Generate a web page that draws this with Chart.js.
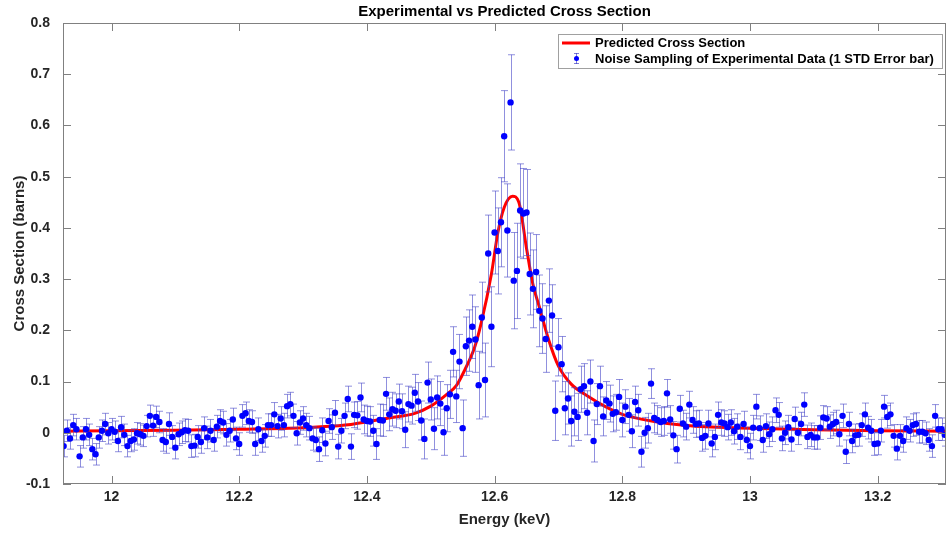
<!DOCTYPE html>
<html>
<head>
<meta charset="utf-8">
<script src="https://cdn.jsdelivr.net/npm/chart.js@4.4.1/dist/chart.umd.min.js"></script>
<style>
  html, body { margin: 0; padding: 0; background: #fff; }
  #wrap { width: 950px; height: 533px; }
</style>
</head>
<body>
<div id="wrap"><canvas id="chart-xs" width="950" height="533"></canvas></div>
<script>
// energy grid of the sampled points (keV)
const energyStart = 11.925
const energyStep = 0.005

// sampled cross section (barns), read left to right
const sigma = [
  -0.026, 0.004, -0.011, 0.015, 0.007, -0.046, -0.009, 0.007, -0.004, -0.032,
  -0.042, -0.009, 0.004, 0.017, -0.001, 0.007, 0.002, -0.016, 0.011, -0.004,
  -0.026, -0.016, -0.013, -0.001, -0.003, -0.006, 0.013, 0.033, 0.014, 0.031,
  0.021, -0.014, -0.018, 0.017, -0.008, -0.029, -0.003, 0.001, 0.005, 0.004,
  -0.026, -0.025, -0.008, -0.018, 0.009, -0.009,
  0.004, -0.014, 0.012, 0.023, 0.020, -0.004, 0.004, 0.026, -0.011, -0.022,
  0.033, 0.038, 0.023, 0.021, -0.022, 0.007, -0.016, -0.006, 0.015, 0.015,
  0.036, 0.013, 0.028, 0.015, 0.052, 0.056, 0.033, -0.001, 0.020, 0.028,
  0.015, 0.009, -0.011, -0.014, -0.032, 0.005, -0.021, 0.023, 0.011, 0.039,
  -0.027, 0.004, 0.033, 0.066, -0.027, 0.035,
  0.034, 0.069, 0.026, 0.023, 0.022, 0.004, -0.022, 0.025, 0.024, 0.076,
  0.036, 0.046, 0.043, 0.061, 0.042, 0.006, 0.056, 0.053, 0.078, 0.061,
  0.024, -0.012, 0.098, 0.065, 0.008, 0.069, 0.057, 0.001, 0.048, 0.075,
  0.158, 0.071, 0.139, 0.009, 0.169, 0.180, 0.207,
  0.182, 0.093, 0.225, 0.103, 0.350, 0.207, 0.391, 0.355, 0.411,
  0.579, 0.395, 0.645, 0.297, 0.316, 0.434, 0.428, 0.430, 0.310, 0.281,
  0.314, 0.238, 0.223, 0.183, 0.258, 0.229, 0.043, 0.167,
  0.134, 0.048, 0.067, 0.023, 0.041, 0.031, 0.085, 0.091, 0.039, 0.100,
  -0.016, 0.056, 0.091, 0.032, 0.063, 0.057, 0.037, 0.040, 0.070, 0.025,
  0.051, 0.035, 0.003, 0.060, 0.044, -0.037, 0.000, 0.009, 0.096, 0.029,
  0.025, 0.021, 0.023, 0.077, 0.026, -0.005, -0.032, 0.047, 0.018, 0.012,
  0.055, 0.025, 0.017, 0.018, -0.010, -0.006, 0.018, -0.021, -0.008, 0.035,
  0.020, 0.018, 0.011, 0.020, 0.003, 0.012, -0.008, 0.017, -0.014, -0.026,
  0.010, 0.051, 0.009, -0.014, 0.013, -0.003, 0.007, 0.044, 0.035, -0.011,
  0.000, 0.011, -0.013, 0.027, 0.000, 0.017, 0.055, -0.008, -0.004, -0.009,
  -0.009, 0.010, 0.030, 0.028, 0.012, 0.017, 0.021, -0.003, 0.033, -0.037,
  0.017, -0.016, -0.005, -0.004, 0.015, 0.036, 0.010, 0.004, -0.022, -0.021,
  0.004, 0.051, 0.031, 0.036, -0.006, -0.031, -0.006, -0.016, 0.009, 0.004,
  0.015, 0.017, 0.002, 0.002, -0.001, -0.014, -0.026, 0.033, 0.007, 0.007,
  -0.004, 0.012
]

// 1 STD error of each sample (barns)
const sigmaErr = [
  0.021, 0.021, 0.021, 0.021, 0.021, 0.021, 0.021, 0.021, 0.021, 0.021,
  0.021, 0.021, 0.021, 0.021, 0.021, 0.021, 0.021, 0.021, 0.021, 0.021,
  0.021, 0.021, 0.021, 0.021, 0.021, 0.021, 0.021, 0.021, 0.021, 0.021,
  0.021, 0.022, 0.022, 0.022, 0.022, 0.022, 0.022, 0.022, 0.022, 0.022,
  0.022, 0.022, 0.022, 0.022, 0.022, 0.022, 0.022, 0.022, 0.022, 0.022,
  0.022, 0.022, 0.022, 0.022, 0.022, 0.022, 0.022, 0.022, 0.022, 0.022,
  0.022, 0.022, 0.022, 0.022, 0.022, 0.022, 0.023, 0.023, 0.023, 0.023,
  0.023, 0.023, 0.023, 0.023, 0.023, 0.023, 0.023, 0.023, 0.023, 0.023,
  0.024, 0.024, 0.024, 0.024, 0.024, 0.024, 0.024, 0.024, 0.025, 0.025,
  0.025, 0.025,
  0.027, 0.028, 0.028, 0.029, 0.029, 0.030, 0.030, 0.031, 0.031, 0.032,
  0.032, 0.033, 0.033, 0.034, 0.034, 0.035, 0.035, 0.036, 0.036, 0.037,
  0.038, 0.039, 0.040, 0.040, 0.041, 0.042, 0.043, 0.045, 0.046, 0.047,
  0.049, 0.051, 0.053, 0.055, 0.057, 0.060, 0.062,
  0.064, 0.066, 0.069, 0.072, 0.075, 0.078, 0.081, 0.084, 0.087,
  0.089, 0.091, 0.093, 0.094, 0.093, 0.091, 0.088, 0.084, 0.080, 0.076,
  0.073, 0.070, 0.068, 0.065, 0.062, 0.060, 0.058, 0.056,
  0.054, 0.052, 0.050, 0.049, 0.047, 0.046, 0.045, 0.044, 0.043, 0.042,
  0.041, 0.040, 0.039, 0.038, 0.037, 0.036, 0.035, 0.035, 0.034, 0.033,
  0.033, 0.032, 0.032, 0.031, 0.031, 0.030, 0.030, 0.029, 0.029, 0.029,
  0.028, 0.028, 0.028, 0.027, 0.027, 0.027, 0.027, 0.026, 0.026, 0.026,
  0.026, 0.026, 0.026, 0.026, 0.026, 0.026, 0.026, 0.026, 0.025, 0.025,
  0.025, 0.025, 0.025, 0.025, 0.025, 0.025, 0.025, 0.025, 0.025, 0.025,
  0.024, 0.024, 0.024, 0.024, 0.024, 0.024, 0.024, 0.024, 0.024, 0.024,
  0.023, 0.023, 0.023, 0.023, 0.023, 0.023, 0.023, 0.023, 0.023, 0.023,
  0.023, 0.023, 0.023, 0.023, 0.023, 0.023, 0.023, 0.023, 0.023, 0.023,
  0.023, 0.023, 0.022, 0.022, 0.022, 0.022, 0.022, 0.022, 0.022, 0.022,
  0.022, 0.022, 0.022, 0.022, 0.022, 0.022, 0.022, 0.022, 0.022, 0.022,
  0.022, 0.022, 0.022, 0.022, 0.022, 0.022, 0.022, 0.022, 0.022, 0.022,
  0.022, 0.022
]

// predicted curve
const predEnergy = [11.924, 12.0, 12.1, 12.2, 12.3, 12.366, 12.434, 12.475, 12.5, 12.527,
  12.54, 12.553, 12.569, 12.579, 12.595, 12.605, 12.615, 12.628, 12.638, 12.65,
  12.66, 12.67, 12.685, 12.70, 12.72, 12.748, 12.775, 12.8, 12.85, 12.9,
  13.0, 13.1, 13.2, 13.31]
const predSigma = [0.003, 0.004, 0.005, 0.007, 0.010, 0.015, 0.029, 0.038, 0.052, 0.077,
  0.092, 0.122, 0.168, 0.214, 0.31, 0.39, 0.44, 0.462, 0.45, 0.36,
  0.29, 0.246, 0.18, 0.13, 0.095, 0.07, 0.05, 0.036, 0.022, 0.014,
  0.009, 0.006, 0.004, 0.003]

const xTicks = [12, 12.2, 12.4, 12.6, 12.8, 13, 13.2]
const xTickLabels = ["12", "12.2", "12.4", "12.6", "12.8", "13", "13.2"]
const yTicks = [-0.1, 0, 0.1, 0.2, 0.3, 0.4, 0.5, 0.6, 0.7, 0.8]
const yTickLabels = ["-0.1", "0", "0.1", "0.2", "0.3", "0.4", "0.5", "0.6", "0.7", "0.8"]

const energy = sigma.map((_, i) => +(energyStart + i * energyStep).toFixed(3))

Chart.defaults.font.family = '"Liberation Sans", Arial, sans-serif'

const axisGray = "#808080"
const textDark = "#262626"

// vertical error bars with caps, drawn under the markers
const errorBars = {
  id: "errorBars",
  beforeDatasetDraw(chart, args) {
    if (args.index !== 0) return
    const { ctx, chartArea: a, scales: { x, y } } = chart
    ctx.save()
    ctx.beginPath()
    ctx.rect(a.left, a.top, a.right - a.left, a.bottom - a.top)
    ctx.clip()
    ctx.strokeStyle = "rgba(70,70,200,0.6)"
    ctx.lineWidth = 1
    sigma.forEach((v, i) => {
      const px = Math.round(x.getPixelForValue(energy[i])) + 0.5
      const top = y.getPixelForValue(v + sigmaErr[i])
      const bot = y.getPixelForValue(v - sigmaErr[i])
      ctx.beginPath()
      ctx.moveTo(px, top); ctx.lineTo(px, bot)
      ctx.moveTo(px - 3.5, top); ctx.lineTo(px + 3.5, top)
      ctx.moveTo(px - 3.5, bot); ctx.lineTo(px + 3.5, bot)
      ctx.stroke()
    })
    ctx.restore()
  }
}

// box, inward ticks, title and legend
const frame = {
  id: "frame",
  afterDraw(chart) {
    const { ctx, chartArea: a, scales: { x, y } } = chart
    const tl = 8
    ctx.save()
    ctx.strokeStyle = axisGray
    ctx.lineWidth = 1
    ctx.strokeRect(a.left + 0.5, a.top + 0.5, a.right - a.left - 1, a.bottom - a.top - 1)
    ctx.beginPath()
    xTicks.forEach(v => {
      const px = Math.round(x.getPixelForValue(v)) + 0.5
      ctx.moveTo(px, a.bottom); ctx.lineTo(px, a.bottom - tl)
      ctx.moveTo(px, a.top); ctx.lineTo(px, a.top + tl)
    })
    yTicks.forEach(v => {
      const py = Math.round(y.getPixelForValue(v)) + 0.5
      ctx.moveTo(a.left, py); ctx.lineTo(a.left + tl, py)
      ctx.moveTo(a.right, py); ctx.lineTo(a.right - tl, py)
    })
    ctx.stroke()

    // title
    ctx.fillStyle = "#000"
    ctx.font = 'bold 15px "Liberation Sans", Arial, sans-serif'
    ctx.textAlign = "center"
    ctx.textBaseline = "middle"
    ctx.fillText("Experimental vs Predicted Cross Section", (a.left + a.right) / 2, 12)

    // legend
    const ds = chart.data.datasets
    const lx = 558, ly = 34, lw = 384, lh = 34
    ctx.fillStyle = "#fff"
    ctx.fillRect(lx, ly, lw, lh)
    ctx.strokeStyle = "#a0a0a0"
    ctx.strokeRect(lx + 0.5, ly + 0.5, lw, lh)
    ctx.strokeStyle = "#ff0000"
    ctx.lineWidth = 3
    ctx.beginPath()
    ctx.moveTo(562, ly + 9); ctx.lineTo(590, ly + 9)
    ctx.stroke()
    ctx.strokeStyle = "rgba(70,70,200,0.7)"
    ctx.lineWidth = 1
    ctx.beginPath()
    ctx.moveTo(576.5, ly + 19); ctx.lineTo(576.5, ly + 30)
    ctx.moveTo(574, ly + 19.5); ctx.lineTo(579, ly + 19.5)
    ctx.moveTo(574, ly + 29.5); ctx.lineTo(579, ly + 29.5)
    ctx.stroke()
    ctx.fillStyle = "#0000ff"
    ctx.beginPath()
    ctx.arc(576.5, ly + 24.5, 2.5, 0, Math.PI * 2)
    ctx.fill()
    ctx.fillStyle = "#000"
    ctx.font = 'bold 13px "Liberation Sans", Arial, sans-serif'
    ctx.textAlign = "left"
    ctx.fillText(ds[1].label, 595, ly + 9)
    ctx.fillText(ds[0].label, 595, ly + 25)
    ctx.restore()
  }
}

new Chart(document.getElementById("chart-xs"), {
  type: "scatter",
  data: {
    datasets: [{
      label: "Noise Sampling of Experimental Data (1 STD Error bar)",
      data: energy.map((e, i) => ({ x: e, y: sigma[i] })),
      pointRadius: 3.2,
      pointBackgroundColor: "#0000ff",
      pointBorderWidth: 0,
      showLine: false,
      order: 0
    }, {
      type: "line",
      label: "Predicted Cross Section",
      data: predEnergy.map((e, i) => ({ x: e, y: predSigma[i] })),
      borderColor: "#ff0000",
      borderWidth: 3,
      pointRadius: 0,
      cubicInterpolationMode: "monotone",
      fill: false,
      order: 1
    }]
  },
  options: {
    responsive: false,
    animation: false,
    devicePixelRatio: 1,
    layout: { padding: { top: 23, right: 2, left: 0, bottom: 0 } },
    plugins: {
      legend: { display: false },
      title: { display: false },
      tooltip: { enabled: false }
    },
    scales: {
      x: {
        type: "linear",
        min: 11.924,
        max: 13.307,
        afterFit: s => { s.height = 49 },
        afterBuildTicks: s => { s.ticks = xTicks.map(v => ({ value: v })) },
        grid: { display: false, drawTicks: false },
        border: { display: false },
        ticks: {
          padding: 5, color: textDark, autoSkip: false, maxRotation: 0,
          font: { size: 14, weight: "bold" },
          callback: (v, i) => xTickLabels[i]
        },
        title: {
          display: true, text: "Energy (keV)", color: textDark,
          font: { size: 15, weight: "bold" }, padding: { top: 0, bottom: 4 }
        }
      },
      y: {
        min: -0.1,
        max: 0.8,
        afterFit: s => { s.width = 63 },
        afterBuildTicks: s => { s.ticks = yTicks.map(v => ({ value: v })) },
        grid: { display: false, drawTicks: false },
        border: { display: false },
        ticks: {
          padding: 13, color: textDark, autoSkip: false,
          font: { size: 14, weight: "bold" },
          callback: (v, i) => yTickLabels[i]
        },
        title: {
          display: true, text: "Cross Section (barns)", color: textDark,
          font: { size: 15, weight: "bold" }, padding: { top: 11, bottom: 0 }
        }
      }
    }
  },
  plugins: [errorBars, frame]
})
</script>
</body>
</html>
